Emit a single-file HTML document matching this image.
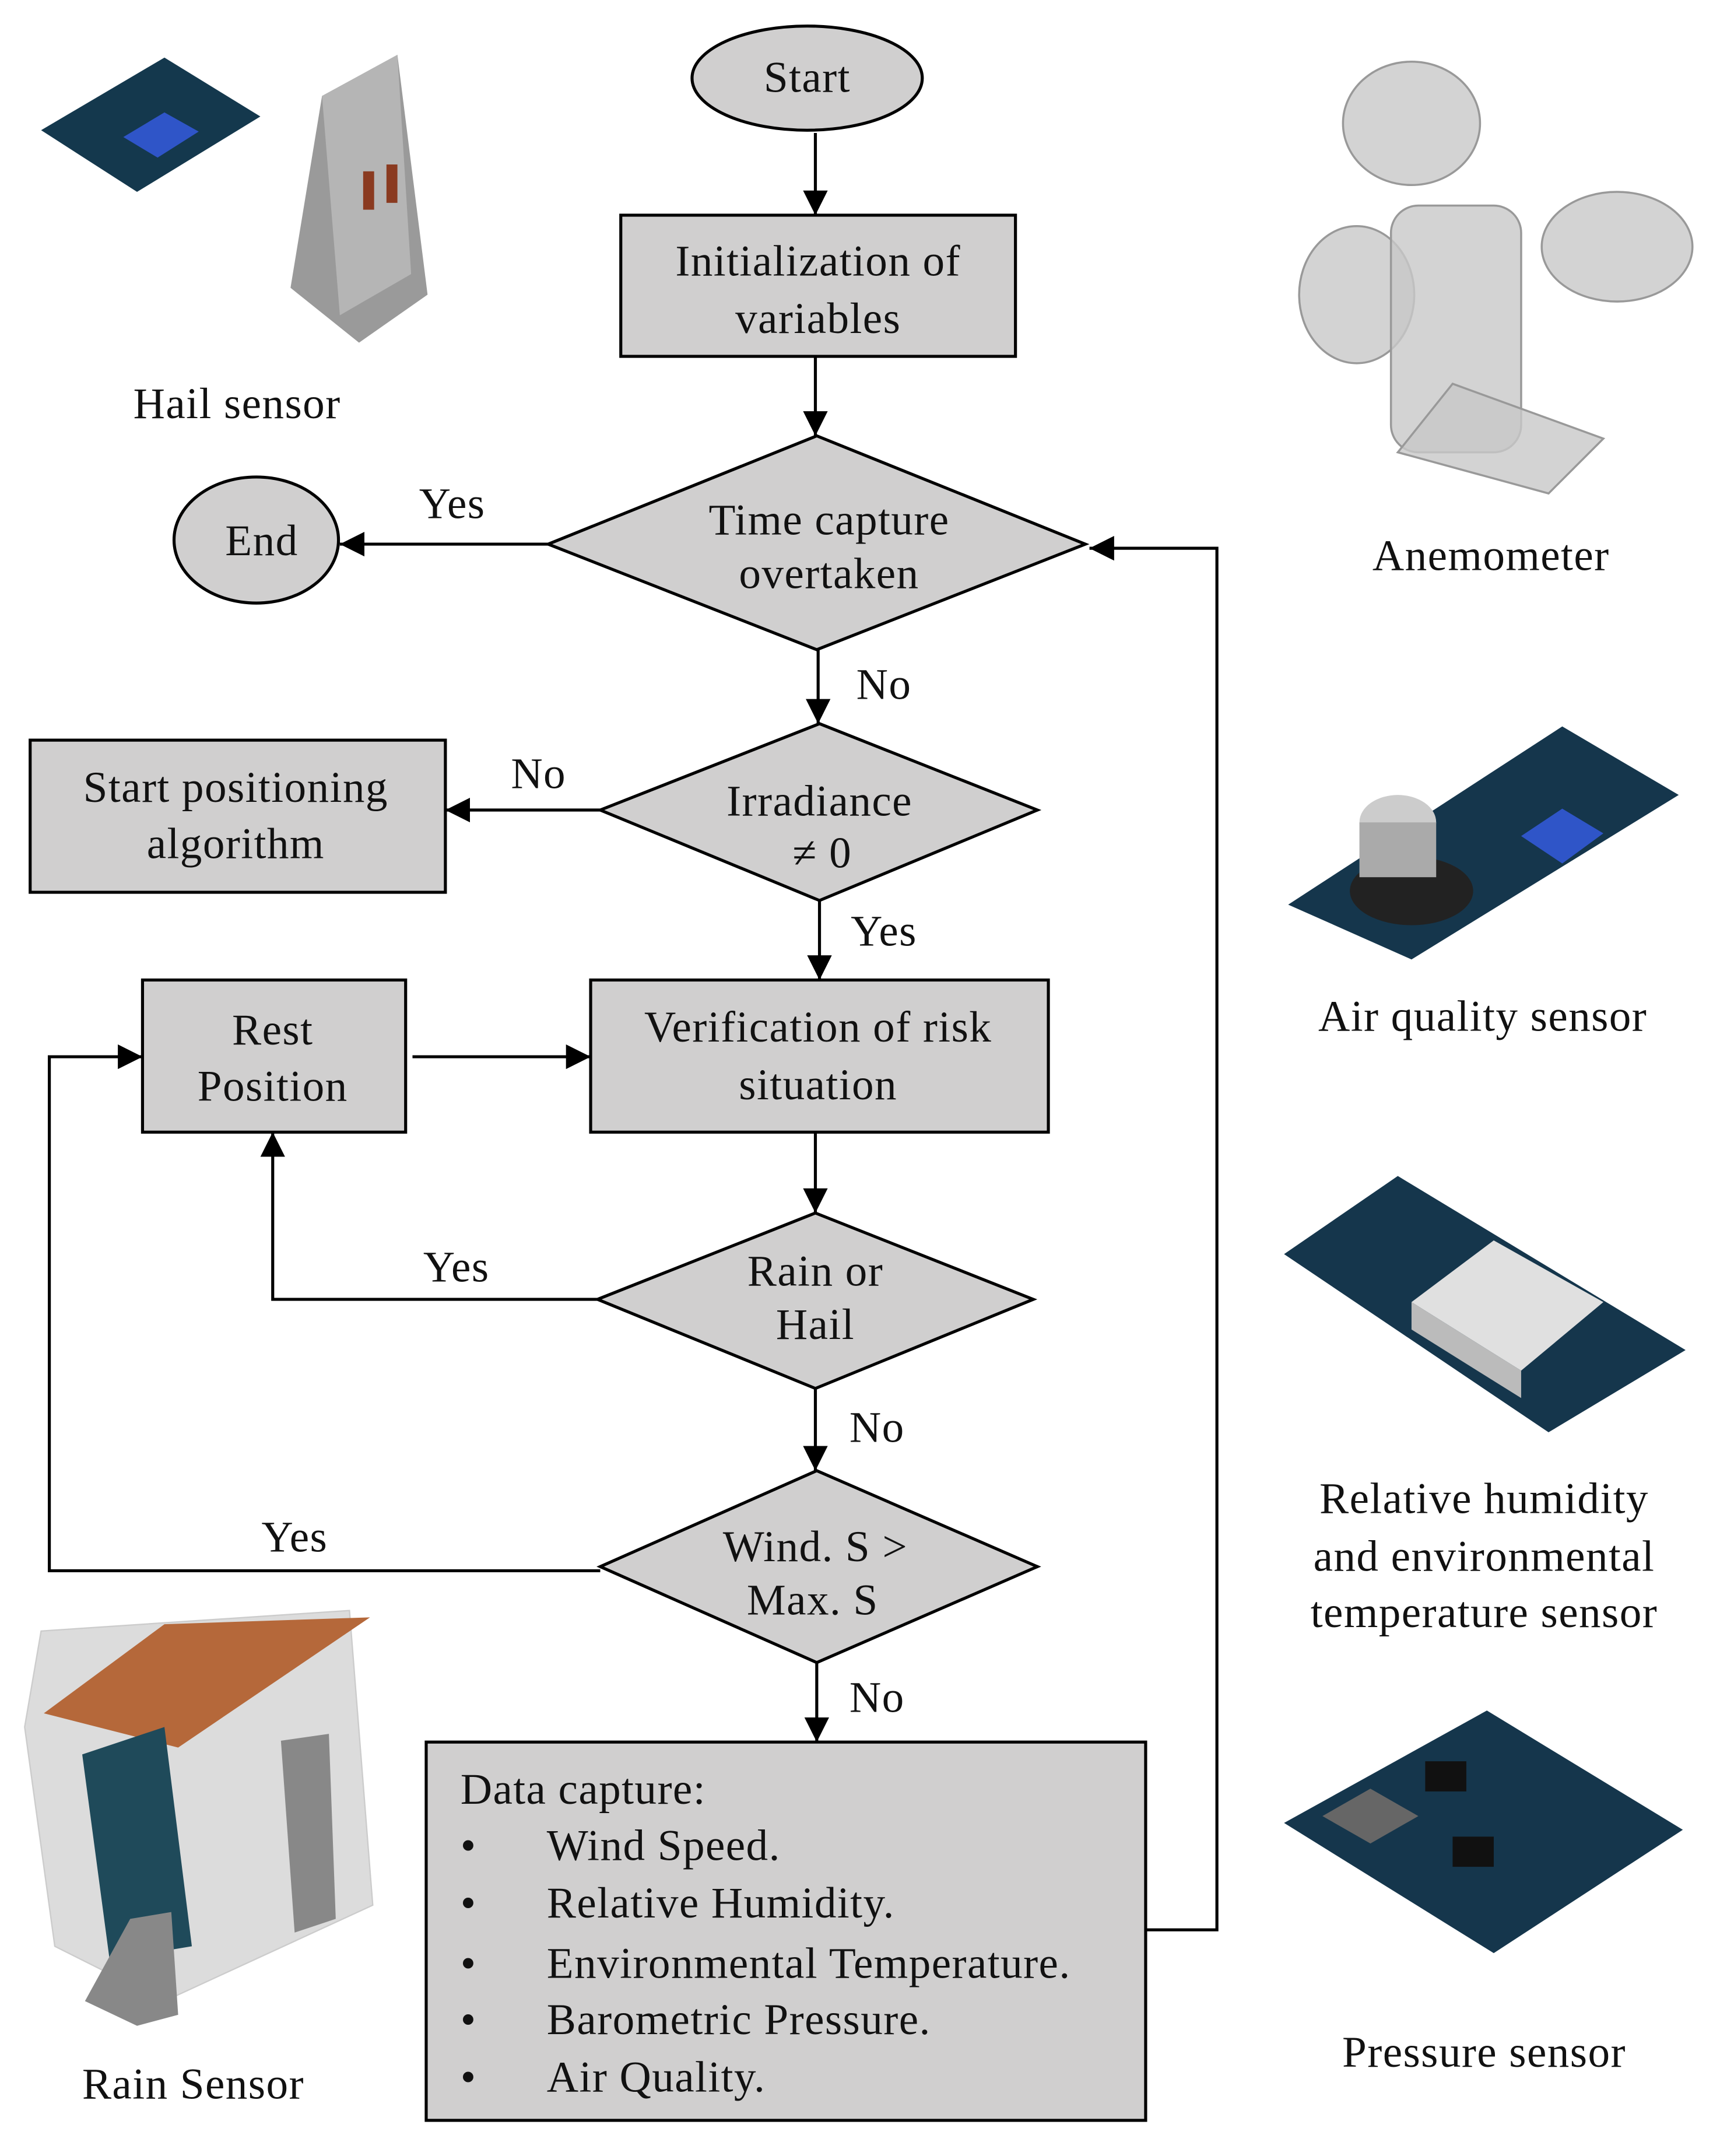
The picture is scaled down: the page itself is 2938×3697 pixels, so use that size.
<!DOCTYPE html>
<html><head><meta charset="utf-8"><style>
html,body{margin:0;padding:0;background:#fff}
svg{display:block}
text{font-family:"Liberation Serif",serif;font-size:32px;letter-spacing:0.6px;fill:#111}
</style></head><body>
<svg width="2938" height="3697" viewBox="0 0 1250 1573" preserveAspectRatio="none" xmlns="http://www.w3.org/2000/svg">
<defs>
<marker id="b" viewBox="0 0 10 10" markerWidth="18" markerHeight="18" refX="10" refY="5" orient="auto" markerUnits="userSpaceOnUse">
<path d="M0,0 L10,5 L0,10 z" fill="#000"/></marker>
</defs>
<g stroke="#000" stroke-width="2.2" fill="none">
<line x1="595" y1="97" x2="595" y2="157" marker-end="url(#b)"/>
<line x1="595" y1="260" x2="595" y2="318" marker-end="url(#b)"/>
<line x1="400" y1="397" x2="248" y2="397" marker-end="url(#b)"/>
<line x1="597" y1="474" x2="597" y2="528" marker-end="url(#b)"/>
<line x1="438" y1="591" x2="325" y2="591" marker-end="url(#b)"/>
<line x1="598" y1="657" x2="598" y2="715" marker-end="url(#b)"/>
<line x1="301" y1="771" x2="431" y2="771" marker-end="url(#b)"/>
<line x1="595" y1="826" x2="595" y2="885" marker-end="url(#b)"/>
<polyline points="436,948 199,948 199,826" marker-end="url(#b)"/>
<line x1="595" y1="1013" x2="595" y2="1073" marker-end="url(#b)"/>
<polyline points="438,1146 36,1146 36,771 104,771" marker-end="url(#b)"/>
<line x1="596" y1="1213" x2="596" y2="1271" marker-end="url(#b)"/>
<polyline points="836,1408 888,1408 888,400 795,400" marker-end="url(#b)"/>
</g>
<g stroke="#000" stroke-width="2.2" fill="#d0cfcf">
<ellipse cx="589" cy="57" rx="84" ry="38"/>
<rect x="453" y="157" width="288" height="103"/>
<polygon points="400,397 596,318 792,397 596,474"/>
<ellipse cx="187" cy="394" rx="60" ry="46"/>
<polygon points="438,591 598,528 757,591 598,657"/>
<rect x="22" y="540" width="303" height="111"/>
<rect x="431" y="715" width="334" height="111"/>
<rect x="104" y="715" width="192" height="111"/>
<polygon points="436,948 595,885 754,948 595,1013"/>
<polygon points="438,1143 596,1073 757,1143 596,1213"/>
<rect x="311" y="1271" width="525" height="276"/>
</g>
<g text-anchor="middle">
<text x="589" y="67">Start</text>
<text x="597" y="201">Initialization of</text>
<text x="597" y="243">variables</text>
<text x="605" y="390">Time capture</text>
<text x="605" y="429">overtaken</text>
<text x="191" y="405">End</text>
<text x="330" y="378">Yes</text>
<text x="645" y="510">No</text>
<text x="598" y="595">Irradiance</text>
<text x="600" y="633">≠ 0</text>
<text x="172" y="585">Start positioning</text>
<text x="172" y="626">algorithm</text>
<text x="393" y="575">No</text>
<text x="645" y="690">Yes</text>
<text x="597" y="760">Verification of risk</text>
<text x="597" y="802">situation</text>
<text x="199" y="762">Rest</text>
<text x="199" y="803">Position</text>
<text x="595" y="938">Rain or</text>
<text x="595" y="977">Hail</text>
<text x="333" y="935">Yes</text>
<text x="640" y="1052">No</text>
<text x="595" y="1139">Wind. S &gt;</text>
<text x="593" y="1178">Max. S</text>
<text x="215" y="1132">Yes</text>
<text x="640" y="1249">No</text>
<text x="173" y="305">Hail sensor</text>
<text x="1088" y="416">Anemometer</text>
<text x="1082" y="752">Air quality sensor</text>
<text x="1083" y="1104">Relative humidity</text>
<text x="1083" y="1146">and environmental</text>
<text x="1083" y="1187">temperature sensor</text>
<text x="1083" y="1508">Pressure sensor</text>
<text x="141" y="1531">Rain Sensor</text>
</g>
<g>
<text x="336" y="1316">Data capture:</text>
<text x="336" y="1357">•</text><text x="399" y="1357">Wind Speed.</text>
<text x="336" y="1399">•</text><text x="399" y="1399">Relative Humidity.</text>
<text x="336" y="1443">•</text><text x="399" y="1443">Environmental Temperature.</text>
<text x="336" y="1484">•</text><text x="399" y="1484">Barometric Pressure.</text>
<text x="336" y="1526">•</text><text x="399" y="1526">Air Quality.</text>
</g>
<polygon points="30,95 120,42 190,85 100,140" fill="#14384d"/>
<polygon points="90,100 120,82 145,96 115,115" fill="#2f55c8"/>
<polygon points="212,210 235,70 290,40 312,215 262,250" fill="#9a9a9a"/>
<polygon points="235,70 290,40 300,200 248,230" fill="#b5b5b5"/>
<rect x="265" y="125" width="8" height="28" fill="#8a3a20"/><rect x="282" y="120" width="8" height="28" fill="#8a3a20"/>
<g fill="#c8c8c8" fill-opacity="0.8" stroke="#999" stroke-width="1.5">
<ellipse cx="1030" cy="90" rx="50" ry="45"/>
<ellipse cx="1180" cy="180" rx="55" ry="40"/>
<ellipse cx="990" cy="215" rx="42" ry="50"/>
<rect x="1015" y="150" width="95" height="180" rx="20"/>
<polygon points="1060,280 1170,320 1130,360 1020,330"/>
</g>
<polygon points="940,660 1140,530 1225,580 1030,700" fill="#15364c"/>
<polygon points="1110,610 1140,590 1170,608 1140,630" fill="#2f55c8"/>
<ellipse cx="1030" cy="650" rx="45" ry="25" fill="#222"/>
<ellipse cx="1020" cy="600" rx="28" ry="20" fill="#ccc"/>
<rect x="992" y="600" width="56" height="40" fill="#aaa"/>
<polygon points="937,915 1020,858 1230,985 1130,1045" fill="#15364c"/>
<polygon points="1030,950 1090,905 1170,950 1110,1000" fill="#e0e0e0"/>
<polygon points="1030,950 1110,1000 1110,1020 1030,970" fill="#bbb"/>
<polygon points="937,1330 1085,1248 1228,1335 1090,1425" fill="#15364c"/>
<polygon points="965,1325 1000,1305 1035,1325 1000,1345" fill="#666"/>
<rect x="1060" y="1340" width="30" height="22" fill="#111"/>
<rect x="1040" y="1285" width="30" height="22" fill="#111"/>
<polygon points="18,1260 30,1190 255,1175 272,1390 120,1460 40,1420" fill="#dcdcdc" stroke="#ccc"/>
<polygon points="32,1250 120,1185 270,1180 130,1275" fill="#b5683a"/>
<polygon points="60,1280 120,1260 140,1420 80,1430" fill="#1f4a5a"/>
<polygon points="205,1270 240,1265 245,1400 215,1410" fill="#888"/>
<polygon points="95,1400 125,1395 130,1470 100,1478 62,1460" fill="#888"/>
</svg>
</body></html>
